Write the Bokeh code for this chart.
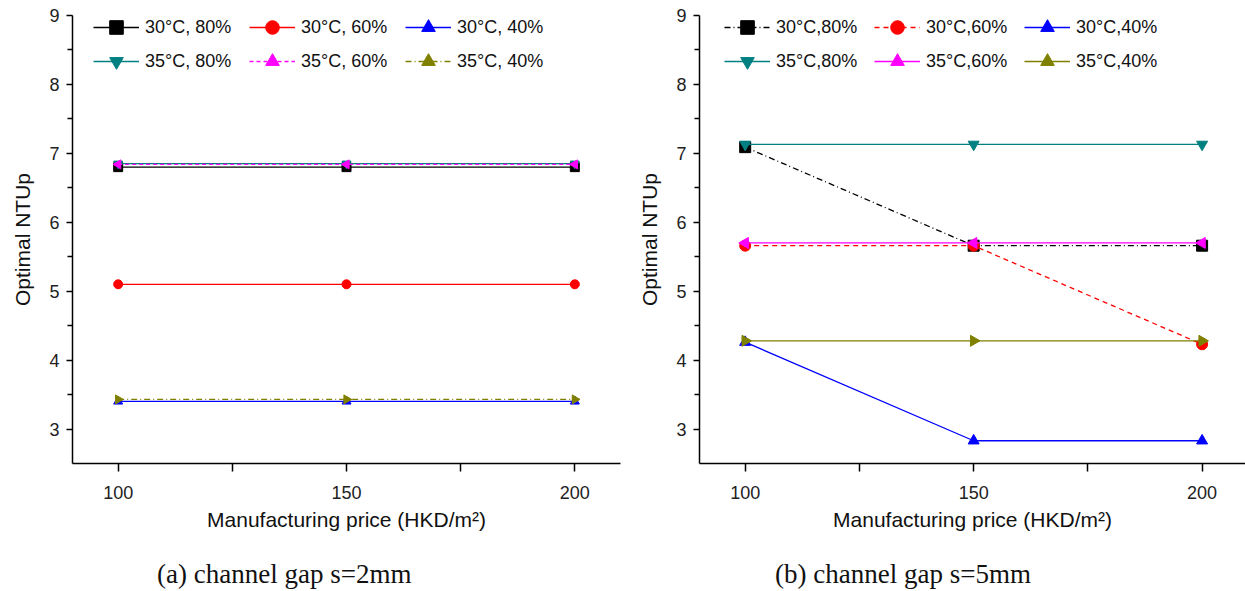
import math

from bokeh.embed import file_html
from bokeh.layouts import column, row
from bokeh.models import Div, FixedTicker, Legend, LegendItem, Range1d
from bokeh.plotting import figure
from bokeh.resources import INLINE

# Manufacturing price (HKD/m2) on the x axis
price = [100, 150, 200]
price_ticks = [100, 150, 200]
price_minor = [125, 175]
ntu_ticks = [3, 4, 5, 6, 7, 8, 9]
ntu_minor = [3.5, 4.5, 5.5, 6.5, 7.5, 8.5]

# Series labels (temperature, relative humidity)
labels_a = ["30°C, 80%", "30°C, 60%", "30°C, 40%", "35°C, 80%", "35°C, 60%", "35°C, 40%"]
labels_b = ["30°C,80%", "30°C,60%", "30°C,40%", "35°C,80%", "35°C,60%", "35°C,40%"]

# (a) channel gap s = 2 mm : optimal NTUp
a_30_80 = [6.80, 6.80, 6.80]
a_30_60 = [5.10, 5.10, 5.10]
a_30_40 = [3.40, 3.40, 3.40]
a_35_80 = [6.85, 6.85, 6.85]
a_35_60 = [6.84, 6.84, 6.84]
a_35_40 = [3.43, 3.43, 3.43]

# (b) channel gap s = 5 mm : optimal NTUp
b_30_80 = [7.09, 5.66, 5.66]
b_30_60 = [5.66, 5.66, 4.23]
b_30_40 = [4.26, 2.83, 2.83]
b_35_80 = [7.13, 7.13, 7.13]
b_35_60 = [5.70, 5.70, 5.70]
b_35_40 = [4.28, 4.28, 4.28]

COLORS = ["#000000", "#FF0000", "#0000FF", "#008080", "#FF00FF", "#808000"]
MARKERS = ["square", "circle", "triangle", "inverted_triangle", "triangle", "triangle"]
ANGLES = [0, 0, 0, 0, math.pi / 2, -math.pi / 2]
DASH_A = ["solid", "solid", "solid", "solid", "4 3", "6 3 1 3"]
DASH_B = ["6 3 1 3", "5 4", "solid", "solid", "solid", "solid"]

SANS = "Liberation Sans"
SERIF = "Liberation Serif"
TOP = 15
FIG_H = 545
BOTTOM = 82
CAPTION_H = 591 - FIG_H
ROW_H = 34


def make_panel(width, border_left, border_right, x_end,
               series, labels, dashes, marker_size, legend_x, legend_label_w):
    p = figure(width=width, height=FIG_H, output_backend="svg", toolbar_location=None,
               x_range=Range1d(90, x_end), y_range=Range1d(2.5, 9),
               min_border_left=border_left, min_border_right=border_right,
               min_border_top=TOP, min_border_bottom=BOTTOM,
               background_fill_color="white", border_fill_color="white")
    p.outline_line_color = None
    p.grid.visible = False

    for ax in (p.xaxis[0], p.yaxis[0]):
        ax.axis_line_color = "black"
        ax.axis_line_width = 1.5
        ax.major_tick_line_color = "black"
        ax.minor_tick_line_color = "black"
        ax.major_tick_line_width = 1.5
        ax.minor_tick_line_width = 1.5
        ax.major_tick_in = 0
        ax.minor_tick_in = 0
        ax.major_label_text_font = SANS
        ax.major_label_text_font_size = "18px"
        ax.major_label_text_color = "#222222"
        ax.axis_label_text_font = SANS
        ax.axis_label_text_font_style = "normal"
        ax.axis_label_text_color = "#111111"

    p.xaxis.ticker = FixedTicker(ticks=price_ticks, minor_ticks=price_minor)
    p.xaxis.major_tick_out = 8
    p.xaxis.minor_tick_out = 8
    p.xaxis.major_label_standoff = 14
    p.xaxis.axis_label = "Manufacturing price (HKD/m²)"
    p.xaxis.axis_label_text_font_size = "21px"
    p.xaxis.axis_label_standoff = 6

    p.yaxis.ticker = FixedTicker(ticks=ntu_ticks, minor_ticks=ntu_minor)
    p.yaxis.major_tick_out = 6
    p.yaxis.minor_tick_out = 5
    p.yaxis.major_label_standoff = 7
    p.yaxis.axis_label = "Optimal NTUp"
    p.yaxis.axis_label_text_font_size = "21px"
    p.yaxis.axis_label_standoff = 12

    items = []
    for vals, label, color, marker, angle, dash in zip(series, labels, COLORS, MARKERS, ANGLES, dashes):
        ln = p.line(price, vals, line_color=color, line_width=1.3, line_dash=dash)
        sc = p.scatter(price, vals, marker=marker, angle=angle, size=marker_size,
                       fill_color=color, line_color=color)
        items.append(LegendItem(label=label, renderers=[ln, sc]))

    frame_h = FIG_H - TOP - BOTTOM
    legend = Legend(items=items, orientation="horizontal", ncols=3,
                    location=(legend_x, frame_h + 5 - 2 * ROW_H),
                    glyph_width=46, glyph_height=ROW_H, label_standoff=6,
                    label_width=legend_label_w, label_height=ROW_H, spacing=0,
                    padding=0, margin=0,
                    label_text_font=SANS, label_text_font_size="18px",
                    label_text_color="#111111",
                    background_fill_alpha=0, border_line_color=None)
    p.add_layout(legend, "center")
    return p


def caption(text, width, indent):
    html = ('<div style="padding-left:%dpx; padding-top:14px; white-space:nowrap; '
            'font-family:\'%s\'; font-size:27px; line-height:31px; color:#111111;">%s</div>'
            % (indent, SERIF, text))
    return Div(text=html, width=width, height=CAPTION_H, margin=0)


panel_a = make_panel(630, 72, 10, 210,
                     [a_30_80, a_30_60, a_30_40, a_35_80, a_35_60, a_35_40],
                     labels_a, DASH_A, 9, 21, 104)
panel_b = make_panel(615, 69, 0, 209.5,
                     [b_30_80, b_30_60, b_30_40, b_35_80, b_35_60, b_35_40],
                     labels_b, DASH_B, 11, 25, 98)

layout = column(
    row(panel_a, panel_b, spacing=0),
    row(caption("(a) channel gap s=2mm", 630, 157), caption("(b) channel gap s=5mm", 615, 145), spacing=0),
    spacing=0,
)
open("out.html", "w").write(file_html(layout, INLINE))
